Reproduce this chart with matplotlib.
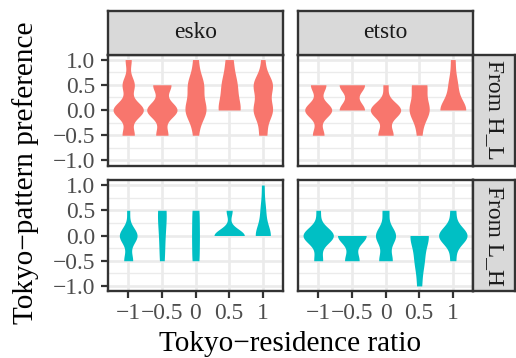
import numpy as np
import matplotlib
matplotlib.use("Agg")
import matplotlib.pyplot as plt

plt.rcParams['font.family'] = ['Liberation Serif', 'DejaVu Serif']

# ---------------- data ----------------
ratio_labels = ["−1", "−0.5", "0", "0.5", "1"]          # Tokyo-residence ratio (x categories)
pref_levels = [-1.0, -0.5, 0.0, 0.5, 1.0]                # possible preference responses
pref_tick_labels = ["−1.0", "−0.5", "0.0", "0.5", "1.0"]
columns = ["esko", "etsto"]
rows = ["From H_L", "From L_H"]
row_colors = ["#F8766D", "#00BFC4"]

# number of responses at each preference level (-1, -0.5, 0, 0.5, 1),
# one list per residence ratio (-1, -0.5, 0, 0.5, 1)
esko_HL = [[0, 2, 5, 2, 1], [0, 2, 5, 3, 0], [0, 1, 4, 3, 1], [0, 0, 3, 2, 1], [0, 2, 5, 5, 1]]
etsto_HL = [[0, 3, 7, 4, 0], [0, 0, 4, 4, 0], [0, 3, 6, 1, 0], [0, 1, 4, 3, 0], [0, 0, 6, 2, 1]]
esko_LH = [[0, 3, 6, 1, 0], [0, 1, 1, 2, 0], [0, 1, 1, 1, 0], [0, 0, 5, 1, 0], [0, 0, 6, 2, 1]]
etsto_LH = [[0, 2, 7, 1, 0], [0, 2, 4, 0, 0], [0, 2, 3, 1, 0], [1, 2, 4, 0, 0], [0, 1, 5, 1, 0]]

panel_counts = {(0, 0): esko_HL, (0, 1): etsto_HL, (1, 0): esko_LH, (1, 1): etsto_LH}


# ---------------- violin density (ggplot2 stat_ydensity, trim=TRUE, scale='area') ----------------
def bw_nrd0(x):
    hi = np.std(x, ddof=1)
    q75, q25 = np.percentile(x, [75, 25])
    lo = min(hi, (q75 - q25) / 1.34)
    if lo == 0:
        lo = hi if hi else (abs(x[0]) if x[0] else 1.0)
    return 0.9 * lo * len(x) ** -0.2


def ydensity(samples):
    y = np.linspace(samples.min(), samples.max(), 512)
    h = bw_nrd0(samples)
    d = np.exp(-0.5 * ((y[:, None] - samples[None, :]) / h) ** 2).sum(1)
    d /= len(samples) * h * np.sqrt(2 * np.pi)
    return y, d


# ---------------- layout (pixels) ----------------
W, H = 516, 358
fig = plt.figure(figsize=(W / 100, H / 100), dpi=100)


def box(l, t, r, b):
    return [l / W, 1 - b / H, (r - l) / W, (b - t) / H]


col_lr = [(108, 283), (298, 473)]
row_tb = [(54.5, 165.5), (180, 291)]
border = "#333333"
lw_border = 1.7
tick_fs = 16.9

for (ri, ci), counts in panel_counts.items():
    l, r = col_lr[ci]
    t, b = row_tb[ri]
    ax = fig.add_axes(box(l, t, r, b))
    ax.set_xlim(0.4, 5.6)
    ax.set_ylim(-1.1, 1.1)
    ax.set_facecolor("white")
    ax.set_axisbelow(True)
    ax.set_xticks(range(1, 6))
    ax.set_yticks(pref_levels)
    ax.set_yticks([-0.75, -0.25, 0.25, 0.75], minor=True)
    ax.grid(True, which="major", color="#EBEBEB", lw=1.9)
    ax.grid(True, which="minor", axis="y", color="#EBEBEB", lw=0.95)
    for s in ax.spines.values():
        s.set_color(border)
        s.set_linewidth(lw_border)
        s.set_zorder(5)
    ax.tick_params(which="minor", length=0)
    ax.tick_params(which="major", length=5.3, width=1.6, color=border,
                   labelsize=tick_fs, labelcolor="#4D4D4D", pad=3.6)
    if ri == 1:
        ax.set_xticklabels(ratio_labels)
    else:
        ax.tick_params(axis="x", length=0, labelbottom=False)
    if ci == 0:
        ax.set_yticklabels(pref_tick_labels)
    else:
        ax.tick_params(axis="y", length=0, labelleft=False)

    dens = []
    for c in counts:
        samples = np.repeat(pref_levels, c)
        dens.append(ydensity(samples))
    dmax = max(d.max() for _, d in dens)
    for i, (y, d) in enumerate(dens):
        x0 = i + 1
        w = d / dmax * 0.45
        ax.fill_betweenx(y, x0 - w, x0 + w, color=row_colors[ri], lw=0, zorder=3)

# strips
strip_bg = "#D9D9D9"
for ci, name in enumerate(columns):
    l, r = col_lr[ci]
    sax = fig.add_axes(box(l, 11, r, 54.5))
    sax.set_facecolor(strip_bg)
    sax.set_xticks([]); sax.set_yticks([])
    for s in sax.spines.values():
        s.set_color(border); s.set_linewidth(lw_border)
    sax.text(0.5, 0.5, name, ha="center", va="center", fontsize=tick_fs,
             color="#1A1A1A", transform=sax.transAxes)
for ri, name in enumerate(rows):
    t, b = row_tb[ri]
    sax = fig.add_axes(box(473, t, 515, b))
    sax.set_facecolor(strip_bg)
    sax.set_xticks([]); sax.set_yticks([])
    for s in sax.spines.values():
        s.set_color(border); s.set_linewidth(lw_border)
    sax.text(0.5, 0.5, name, ha="center", va="center", rotation=-90,
             fontsize=tick_fs, color="#1A1A1A", transform=sax.transAxes)

fig.text(290.5 / W, 1 - 351 / H, "Tokyo−residence ratio", ha="center",
         va="baseline", fontsize=21.1, color="black")
fig.text(26 / W, 1 - 172.5 / H, "Tokyo−pattern preference", ha="center",
         va="center", rotation=90, fontsize=21.1, color="black")

fig.savefig("out.png", dpi=100, facecolor="white")
